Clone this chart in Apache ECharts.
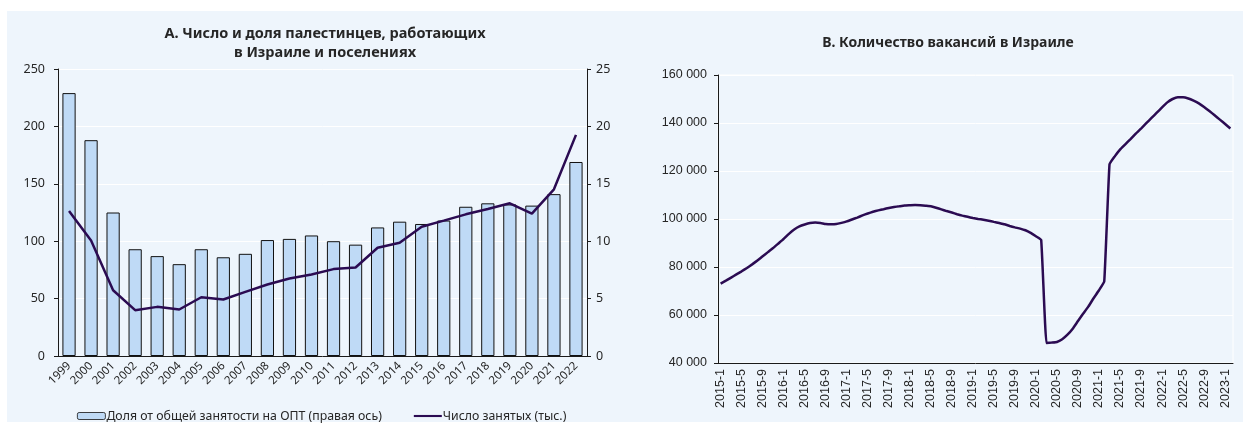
<!DOCTYPE html>
<html>
<head>
<meta charset="utf-8">
<script src="https://cdn.jsdelivr.net/npm/echarts@6/dist/echarts.min.js"></script>
<style>
  html, body { margin: 0; padding: 0; background: #fff; }
  #chart { width: 1243px; height: 426px; }
</style>
</head>
<body>
<div id="chart"></div>
<script>
// Панель A
const years = ['1999', '2000', '2001', '2002', '2003', '2004', '2005', '2006', '2007', '2008', '2009', '2010',
  '2011', '2012', '2013', '2014', '2015', '2016', '2017', '2018', '2019', '2020', '2021', '2022']
const shareOPT = [22.9, 18.8, 12.5, 9.3, 8.7, 8.0, 9.3, 8.6, 8.9, 10.1, 10.2, 10.5,
  10.0, 9.7, 11.2, 11.7, 11.5, 11.8, 13.0, 13.3, 13.2, 13.1, 14.1, 16.9]
const employed = [126.3, 100.7, 57.3, 39.9, 42.8, 40.5, 51.2, 49.2, 55.9, 62.3, 67.5, 71.0,
  75.7, 77.1, 94.3, 98.6, 112.6, 117.9, 123.4, 128.0, 133.0, 124.0, 145.2, 192.6]

// Панель B
const months = []
for (let y = 2015; y <= 2023; y++) {
  for (let m = 1; m <= 12; m++) {
    if (y === 2023 && m > 2) break
    months.push(y + '-' + m)
  }
}
const vacancies = [
  73100, 74300, 75600, 76900, 78200, 79600, 81100, 82700, 84500, 86200, 87900, 89800,
  91700, 93800, 95600, 96900, 97700, 98300, 98500, 98300, 97900, 97800, 97900, 98400,
  99000, 99800, 100600, 101500, 102300, 103000, 103600, 104100, 104600, 105000, 105300, 105600,
  105700, 105800, 105700, 105500, 105300, 104700, 104000, 103300, 102700, 102000, 101400, 100900,
  100400, 100000, 99700, 99300, 98800, 98300, 97800, 97100, 96500, 96000, 95300, 94200,
  92800, 91300, 48300, 48500, 48750, 49900, 51800, 54300, 57500, 60600, 63600, 67100,
  70300, 74000, 122800, 126100, 128900, 131100, 133300, 135600, 137700, 139900, 142100, 144300,
  146500, 148600, 150000, 150700, 150700, 150200, 149300, 148200, 146700, 145000, 143200, 141400,
  139600, 137700
]

const darkLine = '#2b0b52'
const axisCol = '#1a1a1a'
const txt = '#262626'

const chart = echarts.init(document.getElementById('chart'))

const fmtThousands = v => String(v).replace(/\B(?=(\d{3})+(?!\d))/g, ' ')

chart.setOption({
  animation: false,
  graphic: [{
    type: 'rect',
    z: -10,
    shape: { x: 7, y: 11, width: 1236, height: 411 },
    style: { fill: '#eef5fc' }
  }],
  title: [
    {
      text: 'А. Число и доля палестинцев, работающих\nв Израиле и поселениях',
      left: 320, top: 19, textAlign: 'center',
      textStyle: { fontFamily: 'Noto Sans', fontSize: 14.5, fontWeight: 'bold', color: txt, lineHeight: 19 }
    },
    {
      text: 'B. Количество вакансий в Израиле',
      left: 943, top: 31, textAlign: 'center',
      textStyle: { fontFamily: 'Noto Sans', fontSize: 14, fontWeight: 'bold', color: txt }
    }
  ],
  legend: {
    left: 72, top: 405,
    itemWidth: 28, itemHeight: 7, itemGap: 32,
    textStyle: { fontFamily: 'Noto Sans', fontSize: 12.3, color: txt, padding: [0, 0, 0, -4] },
    data: [
      { name: 'Доля от общей занятости на ОПТ (правая ось)', itemStyle: { borderWidth: 0.8 } },
      { name: 'Число занятых (тыс.)', icon: 'path://M0 0H40V3H0Z' }
    ]
  },
  grid: [
    { left: 58, right: 656, top: 69, bottom: 70 },
    { left: 718, right: 10, top: 75, bottom: 63, show: true, borderColor: '#fff', borderWidth: 1, backgroundColor: 'transparent' }
  ],
  xAxis: [
    {
      type: 'category', gridIndex: 0, data: years,
      axisLine: { lineStyle: { color: axisCol } },
      axisTick: { length: 4, lineStyle: { color: axisCol } },
      axisLabel: { rotate: 45, fontFamily: 'Noto Sans', fontSize: 11.5, color: txt, margin: 8, interval: 0 }
    },
    {
      type: 'category', gridIndex: 1, data: months,
      axisLine: { lineStyle: { color: axisCol } },
      axisTick: { length: 3, interval: 0, lineStyle: { color: '#444' } },
      axisLabel: { rotate: 90, interval: 3, fontFamily: 'Liberation Sans', fontSize: 12.5, color: txt, margin: 6 }
    }
  ],
  yAxis: [
    {
      type: 'value', gridIndex: 0, min: 0, max: 250, interval: 50,
      axisLine: { show: true, lineStyle: { color: axisCol } },
      axisTick: { show: true, length: 4, lineStyle: { color: axisCol } },
      axisLabel: { fontFamily: 'Noto Sans', fontSize: 12.5, color: txt, margin: 13 },
      splitLine: { lineStyle: { color: '#fff', width: 1 } }
    },
    {
      type: 'value', gridIndex: 0, min: 0, max: 25, interval: 5, position: 'right',
      axisLine: { show: true, lineStyle: { color: axisCol } },
      axisTick: { show: true, length: 4, lineStyle: { color: axisCol } },
      axisLabel: { fontFamily: 'Noto Sans', fontSize: 12.5, color: txt, margin: 9 },
      splitLine: { show: false }
    },
    {
      type: 'value', gridIndex: 1, min: 40000, max: 160000, interval: 20000,
      axisLine: { show: true, lineStyle: { color: axisCol } },
      axisTick: { show: true, length: 4, lineStyle: { color: axisCol } },
      axisLabel: { fontFamily: 'Liberation Sans', fontSize: 12.5, color: txt, margin: 11, formatter: fmtThousands },
      splitLine: { lineStyle: { color: '#fff', width: 1 } }
    }
  ],
  series: [
    {
      name: 'Доля от общей занятости на ОПТ (правая ось)',
      type: 'bar', xAxisIndex: 0, yAxisIndex: 1,
      barWidth: '60%',
      itemStyle: { color: '#bfdaf6', borderColor: '#111', borderWidth: 1 },
      data: shareOPT
    },
    {
      name: 'Число занятых (тыс.)',
      type: 'line', xAxisIndex: 0, yAxisIndex: 0,
      symbol: 'none',
      lineStyle: { color: darkLine, width: 2.5 },
      itemStyle: { color: darkLine },
      data: employed
    },
    {
      name: 'Вакансии',
      type: 'line', xAxisIndex: 1, yAxisIndex: 2,
      symbol: 'none', smooth: 0.1,
      lineStyle: { color: darkLine, width: 2.5 },
      data: vacancies
    }
  ]
})
</script>
</body>
</html>
